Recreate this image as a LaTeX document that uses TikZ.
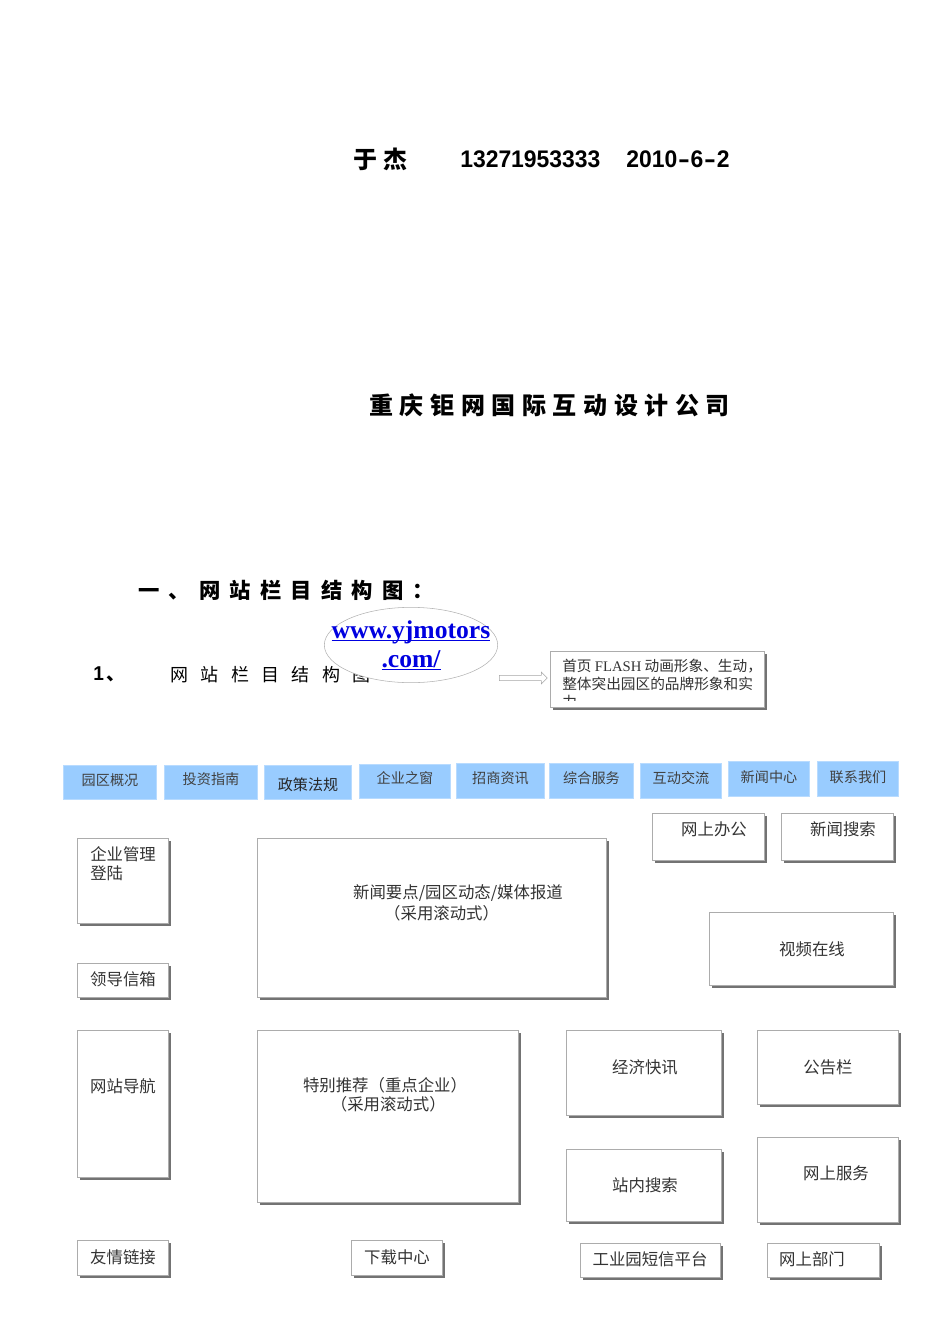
\documentclass[tikz,border=0pt]{standalone}
\usepackage{fontspec}
\setmainfont{Liberation Serif}
\newfontfamily\cjk{Noto Sans CJK SC}
\newfontfamily\cjkhead[LetterSpace=27.5]{Noto Sans CJK SC}
\newfontfamily\cjksection[LetterSpace=43]{Noto Sans CJK SC}
\newfontfamily\cjksub[LetterSpace=69]{Noto Sans CJK SC}
\newfontfamily\headlatin[FakeStretch=0.955]{Liberation Sans}
\newfontfamily\flashlatin{Liberation Serif}
\usetikzlibrary{shadows,shapes.geometric,shapes.arrows}

\definecolor{navblue}{HTML}{99CCFF}
\definecolor{linkblue}{HTML}{0000E0}
\newcommand{\hy}{\kern.6pt\scalebox{1.55}[1]{-}\kern.6pt}
\tikzset{
	navbox/.style={fill=navblue,draw=navblue!70!white,line width=.5pt,inner sep=0pt},
	panel/.style={draw=gray!65,fill=white,line width=.5pt,inner sep=0pt,
		drop shadow={shadow xshift=2pt,shadow yshift=-2.2pt,fill=black!55,opacity=1}},
	paneltext/.style={font=\cjk\fontsize{12.3}{14.4}\selectfont,text=black!80,inner sep=0pt},
	navtext/.style={font=\cjk\fontsize{10.6}{12}\selectfont,text=black!75,inner sep=0pt},
	headtext/.style={font=\cjkhead\bfseries\fontsize{18}{20}\selectfont,inner sep=0pt},
	numtext/.style={font=\headlatin\bfseries\fontsize{18}{20}\selectfont,inner sep=0pt},
}

\begin{document}
\begin{tikzpicture}[x=0.75pt,y=-0.75pt]
	\useasboundingbox (0,0) rectangle (950,1344);

	% headings
	\node[headtext,anchor=west] (author) at (353,159) {于杰};
	\node[numtext,anchor=west] (phone) at (460,159) {13271953333};
	\node[numtext,anchor=west] (date) at (626,159) {2010\hy6\hy2};
	\node[headtext,anchor=west] (company) at (369,405) {重庆钜网国际互动设计公司};
	\node[anchor=west,inner sep=0pt,font=\cjksection\bfseries\fontsize{16}{18}\selectfont] (section) at (138,590) {一、网站栏目结构图：};
	\node[anchor=west,inner sep=0pt,font=\cjk\bfseries\fontsize{14}{16}\selectfont] (subnum) at (93,674) {{\headlatin\fontsize{15}{16}\selectfont 1}\kern2pt、};
	\node[anchor=west,inner sep=0pt,font=\cjksub\fontsize{13.5}{16}\selectfont] (subtitle) at (170,675) {网站栏目结构图};

	% logo and flash
	\node[ellipse,draw=gray!60,fill=white,line width=.4pt,minimum width=130pt,minimum height=56.5pt,inner sep=0pt] (logo) at (411,645) {};
	\node[align=center,inner sep=0pt,text=linkblue,font=\bfseries\fontsize{19.2}{22}\selectfont] (logotext) at (411,654) {\underline{\smash{www.yjmotors}}\\\underline{\smash{.com/}}};
	\node[single arrow,draw=gray!70,fill=white,line width=.4pt,minimum width=9pt,minimum height=36pt,single arrow head extend=1.5pt,inner sep=1pt] (pointer) at (522,678) {};
	\node[panel,minimum width=160.5pt,minimum height=42pt] (flash) at (657.5,679) {};
	\begin{scope}
		\clip (551,652) rectangle (764,700);
		\node[paneltext,anchor=north west,align=left,font=\cjk\fontsize{11}{13.4}\selectfont] (flashtext) at (562,659) {首页 {\flashlatin FLASH} 动画形象、生动，\\整体突出园区的品牌形象和实\\力};
	\end{scope}

	% top menu
	\foreach \name/\cx/\cy/\w/\h/\ty/\label in {
		park/110/782/94/34/780/园区概况,
		invest/211/782/94/34/779/投资指南,
		policy/308/782/88/34/785/{\color{black!85}\fontsize{11.3}{13}\selectfont 政策法规},
		firm/405/781/92/34/778/企业之窗,
		recruit/500.5/780.5/89/35/778/招商资讯,
		service/591.5/780.5/85/35/778/综合服务,
		talk/681/780.5/82/35/778/互动交流,
		news/769/778.5/82/35/777/新闻中心,
		contact/858/778.5/82/35/777/联系我们}
	{
		\node[navbox,minimum width={(\w-1)*0.75pt},minimum height={\h*0.75pt}] (\name) at (\cx,\cy) {};
		\node[navtext] (\name text) at (\cx,\ty) {\label};
	}

	% page blocks
	\foreach \name/\cx/\cy/\w/\h/\tx/\ty/\label in {
		office/708.5/836.5/113/47/714/829/网上办公,
		newssearch/837.5/836.5/113/47/843/829/新闻搜索,
		headline/432/917.5/350/159/458/903/{新闻要点/园区动态/媒体报道\\[1pt]（采用滚动式）\hspace*{2em}},
		video/801.5/948.5/185/73/812/949/视频在线,
		mailbox/123/980/92/34/123/979/领导信箱,
		guide/123/1103.5/92/147/123/1086/网站导航,
		special/388/1116/262/172/385/1095/{特别推荐（重点企业）\\\hspace*{.4em}（采用滚动式）},
		flashnews/644/1072.5/156/85/645/1067/经济快讯,
		notice/828/1067/142/74/828/1067/公告栏,
		sitesearch/644/1185/156/72/645/1185/站内搜索,
		onlineserv/828/1179.5/142/85/836/1173/网上服务,
		friends/123/1257.5/92/35/123/1257/友情链接,
		download/397/1257.5/92/35/397/1257/下载中心,
		sms/650.5/1260/141/34/650/1259/工业园短信平台,
		dept/823.5/1260/113/34/812/1259/网上部门}
	{
		\node[panel,minimum width={(\w-1)*0.75pt},minimum height={\h*0.75pt}] (\name) at (\cx,\cy) {};
		\node[paneltext,align=center] (\name text) at (\tx,\ty) {\label};
	}
	\node[panel,minimum width=68.5pt,minimum height=63.75pt] (login) at (123,880.5) {};
	\node[paneltext,align=left,anchor=west] (login text) at (90,864) {企业管理\\登陆};
\end{tikzpicture}
\end{document}
